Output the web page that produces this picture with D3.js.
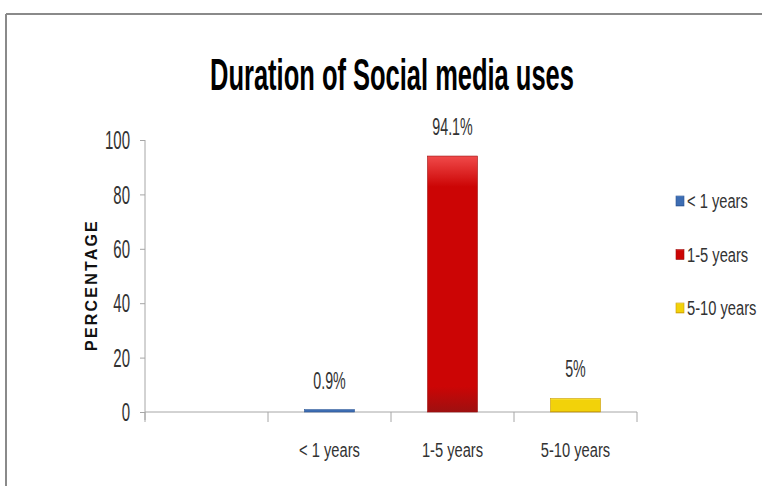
<!DOCTYPE html>
<html><head><meta charset="utf-8">
<script src="https://cdn.jsdelivr.net/npm/d3@7"></script>
<style>body{margin:0;background:#fff}svg{display:block}</style>
</head><body>
<svg id="c" width="762" height="486"></svg>
<script>
const categories = ["", "< 1 years", "1-5 years", "5-10 years"];
const values = [null, 0.9, 94.1, 5];
const valueLabels = ["", "0.9%", "94.1%", "5%"];
const seriesNames = ["< 1 years", "1-5 years", "5-10 years"];
const yTicks = [0, 20, 40, 60, 80, 100];
const colors = {"< 1 years": ["#6a98d6", "#3d6db3", "#2c5593"], "1-5 years": ["#f04a4a", "#cc0505", "#9e1010"], "5-10 years": ["#fff060", "#f2d20a", "#c99a08"]};

const svg = d3.select("#c");
const font = "'Liberation Sans',Arial,sans-serif";
// horizontally condense text around its own anchor point using a transform
function condense(sel, f) {
  sel.each(function() {
    const el = d3.select(this);
    const tx = +el.attr("x") || 0, ty = +el.attr("y") || 0;
    el.attr("transform", `translate(${tx},${ty}) scale(${f},1) translate(${-tx},${-ty})`);
  });
}
const defs = svg.append("defs");
seriesNames.forEach((s, i) => {
  const g = defs.append("linearGradient").attr("id", "g" + i).attr("x1", 0).attr("x2", 0).attr("y1", 0).attr("y2", 1);
  g.append("stop").attr("offset", "0").attr("stop-color", colors[s][0]);
  g.append("stop").attr("offset", "0.12").attr("stop-color", colors[s][1]);
  g.append("stop").attr("offset", "0.9").attr("stop-color", colors[s][1]);
  g.append("stop").attr("offset", "1").attr("stop-color", colors[s][2]);
});

// frame
svg.append("line").attr("x1", 6).attr("x2", 762).attr("y1", 14).attr("y2", 14).attr("stroke", "#8a8a8a").attr("stroke-width", 2);
svg.append("line").attr("x1", 6).attr("x2", 6).attr("y1", 14).attr("y2", 486).attr("stroke", "#8a8a8a").attr("stroke-width", 2);

// title
const title = svg.append("text").attr("x", 392).attr("y", 90).attr("text-anchor", "middle")
  .attr("font-family", font).attr("font-weight", "bold").attr("font-size", 44)
  .text("Duration of Social media uses");
condense(title, 364 / title.node().getComputedTextLength());

const x = d3.scaleBand().domain(categories).range([145, 637]).paddingInner(0).paddingOuter(0);
const y = d3.scaleLinear().domain([0, 100]).range([412, 140]);

// y axis
const ya = svg.append("g").attr("transform", "translate(145,0)")
  .call(d3.axisLeft(y).tickValues(yTicks).tickSize(5).tickPadding(10));
ya.select(".domain").attr("stroke", "#a6a6a6").attr("d", "M0,140V420");
ya.selectAll(".tick line").attr("stroke", "#a6a6a6").attr("x1", 0).attr("x2", -5);
ya.selectAll(".tick text").attr("font-family", font).attr("font-size", 25).attr("fill", "#333").attr("dy", "0.35em").call(condense, 0.6);

// x axis
const xa = svg.append("g").attr("transform", "translate(0,412)")
  .call(d3.axisBottom(x).tickSize(0).tickPadding(30));
xa.select(".domain").attr("stroke", "#a6a6a6").attr("d", "M145,0H637");
xa.selectAll(".tick text").attr("font-family", font).attr("font-size", 21).attr("fill", "#333").call(condense, 0.7);
const bounds = categories.map(c => x(c)).concat([x(categories[categories.length - 1]) + x.bandwidth()]);
xa.selectAll(".bt").data(bounds).enter().append("line")
  .attr("x1", d => d).attr("x2", d => d).attr("y1", 0).attr("y2", 10).attr("stroke", "#a6a6a6");

// bars
const bw = 50;
const data = categories.map((c, i) => ({c, v: values[i], l: valueLabels[i]})).filter(d => d.v !== null);
svg.selectAll(".bar").data(data).enter().append("rect")
  .attr("x", d => x(d.c) + x.bandwidth() / 2 - bw / 2)
  .attr("y", d => y(d.v))
  .attr("width", bw)
  .attr("height", d => y(0) - y(d.v))
  .attr("fill", d => "url(#g" + seriesNames.indexOf(d.c) + ")")
  .attr("stroke", d => colors[d.c][2]).attr("stroke-width", 0.6);

svg.selectAll(".vl").data(data).enter().append("text")
  .attr("x", d => x(d.c) + x.bandwidth() / 2)
  .attr("y", d => y(d.v) - 21)
  .attr("text-anchor", "middle").attr("font-family", font).attr("font-size", 23).attr("fill", "#333")
  .text(d => d.l).call(condense, 0.62);

// y label
svg.append("text").attr("transform", "translate(97,285) rotate(-90)").attr("text-anchor", "middle")
  .attr("font-family", font).attr("font-weight", "bold").attr("font-size", 16)
  .attr("letter-spacing", 2.2).attr("fill", "#111").text("PERCENTAGE");

// legend
const lg = svg.selectAll(".lg").data(seriesNames).enter().append("g")
  .attr("transform", (d, i) => `translate(676,${201 + i * 53.5})`);
lg.append("rect").attr("x", 0).attr("y", -5).attr("width", 8).attr("height", 10)
  .attr("fill", (d, i) => "url(#g" + i + ")").attr("stroke", d => colors[d][2]).attr("stroke-width", 0.6);
lg.append("text").attr("x", 11).attr("y", 0).attr("dy", "0.35em")
  .attr("font-family", font).attr("font-size", 21).attr("fill", "#333").text(d => d).call(condense, 0.7);
</script>
</body></html>
